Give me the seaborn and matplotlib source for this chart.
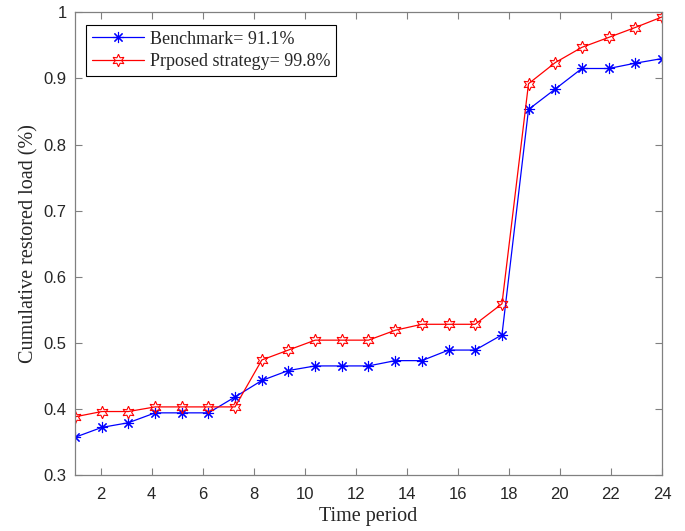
import numpy as np
import matplotlib
matplotlib.use("Agg")
import matplotlib.pyplot as plt
import seaborn as sns

# time axis (23 samples spread over periods 1..24)
period = [1.00, 2.05, 3.09, 4.14, 5.18, 6.23, 7.27, 8.32, 9.36, 10.41, 11.45, 12.50,
          13.55, 14.59, 15.64, 16.68, 17.73, 18.77, 19.82, 20.86, 21.91, 22.95, 24.00]

benchmark = [0.357, 0.372, 0.379, 0.394, 0.394, 0.394, 0.418, 0.443, 0.458, 0.465, 0.465, 0.465,
             0.473, 0.473, 0.489, 0.489, 0.512, 0.853, 0.884, 0.915, 0.915, 0.923, 0.930]
proposed = [0.388, 0.396, 0.396, 0.403, 0.403, 0.403, 0.403, 0.474, 0.489, 0.504, 0.504, 0.504,
            0.519, 0.528, 0.528, 0.528, 0.559, 0.892, 0.924, 0.947, 0.962, 0.977, 0.993]

labels = ["Benchmark= 91.1%", "Prposed strategy= 99.8%"]

sns.set_style("ticks")
plt.rcParams['font.family'] = ['Liberation Sans', 'DejaVu Sans']

fig = plt.figure(figsize=(6.85, 5.31), dpi=100)
ax = fig.add_axes([0.1095, 0.1055, 0.8569, 0.8713])

sns.lineplot(x=period, y=benchmark, ax=ax, color=(0, 0, 1), lw=0.9,
             marker=(8, 2, 0), markersize=8, markeredgecolor=(0, 0, 1),
             markeredgewidth=0.8, label=labels[0])
sns.lineplot(x=period, y=proposed, ax=ax, color=(1, 0, 0), lw=0.9,
             marker=(6, 1, 0), markersize=9, markeredgecolor=(1, 0, 0),
             markerfacecolor='none', markeredgewidth=0.8, label=labels[1])

ax.set_xlim(1, 24)
ax.set_ylim(0.3, 1)
ax.set_xticks(range(2, 25, 2))
ax.set_yticks([0.3, 0.4, 0.5, 0.6, 0.7, 0.8, 0.9, 1.0])
ax.set_yticklabels(["0.3", "0.4", "0.5", "0.6", "0.7", "0.8", "0.9", "1"])

ax.tick_params(direction='in', top=True, right=True, length=5, width=0.8,
               color='#808080', labelcolor='#262626', labelsize=12)
ax.tick_params(axis='x', pad=9)
ax.tick_params(axis='y', pad=6)
for s in ax.spines.values():
    s.set_color('#808080')
    s.set_linewidth(0.9)

ax.set_xlabel("Time period", family='Liberation Serif', fontsize=14.5, color='#262626', labelpad=3)
ax.set_ylabel("Cumulative restored load (%)", family='Liberation Serif', fontsize=14.5,
              color='#262626', labelpad=4)

leg = ax.legend(loc='upper left', bbox_to_anchor=(0.019, 0.973), borderaxespad=0,
                fancybox=False, edgecolor='black', framealpha=1,
                prop={'family': 'Liberation Serif', 'size': 13},
                handlelength=2.9, handletextpad=0.3, labelspacing=0.3, borderpad=0.32)
leg.get_frame().set_linewidth(0.8)

fig.savefig("out.png", dpi=100)
